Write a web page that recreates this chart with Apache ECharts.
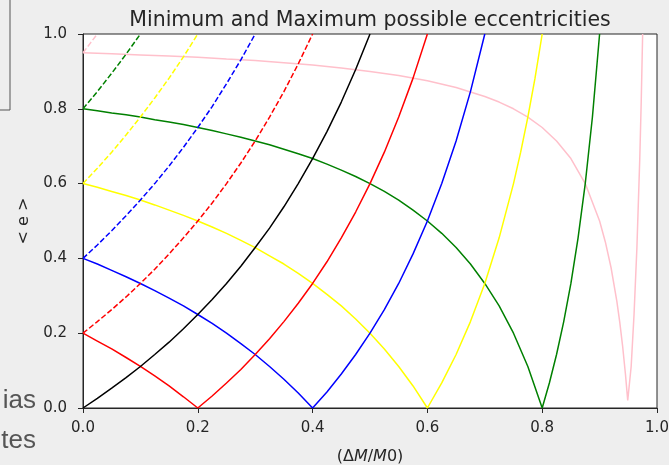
<!DOCTYPE html>
<html>
<head>
<meta charset="utf-8">
<script src="https://cdn.jsdelivr.net/npm/echarts@6/dist/echarts.min.js"></script>
<style>
  html, body { margin: 0; padding: 0; background: #eeeeee; }
  #chart { width: 669px; height: 465px; }
</style>
</head>
<body>
<div id="chart"></div>
<script>
// Eccentricity after an instantaneous mass loss ΔM/M0, for several initial
// eccentricities. Each curve is a list of [ΔM/M0, e] points.
// Solid: minimum eccentricity, dashed: maximum eccentricity.

const tickLabels = ['0.0', '0.2', '0.4', '0.6', '0.8', '1.0'];

// e0 = 0 (minimum and maximum coincide)
const blackCurve = [[0,0],[0.025,0.026],[0.05,0.053],[0.075,0.081],[0.1,0.111],[0.125,0.143],[0.15,0.176],[0.175,0.212],[0.2,0.25],[0.225,0.29],[0.25,0.333],[0.275,0.379],[0.3,0.429],[0.325,0.481],[0.35,0.538],[0.375,0.6],[0.4,0.667],[0.425,0.739],[0.45,0.818],[0.475,0.905],[0.5,1.0]];

// e0 = 0.2
const redMin = [[0,0.2],[0.025,0.179],[0.05,0.158],[0.075,0.135],[0.1,0.111],[0.125,0.086],[0.15,0.059],[0.175,0.03],[0.2,0],[0.225,0.032],[0.25,0.067],[0.275,0.103],[0.3,0.143],[0.325,0.185],[0.35,0.231],[0.375,0.28],[0.4,0.333],[0.425,0.391],[0.45,0.455],[0.475,0.524],[0.5,0.6],[0.525,0.684],[0.55,0.778],[0.575,0.882],[0.6,1.0]];
const redMax = [[0,0.2],[0.025,0.231],[0.05,0.263],[0.075,0.297],[0.1,0.333],[0.125,0.371],[0.15,0.412],[0.175,0.455],[0.2,0.5],[0.225,0.548],[0.25,0.6],[0.275,0.655],[0.3,0.714],[0.325,0.778],[0.35,0.846],[0.375,0.92],[0.4,1.0]];

// e0 = 0.4
const blueMin = [[0,0.4],[0.025,0.385],[0.05,0.368],[0.075,0.351],[0.1,0.333],[0.125,0.314],[0.15,0.294],[0.175,0.273],[0.2,0.25],[0.225,0.226],[0.25,0.2],[0.275,0.172],[0.3,0.143],[0.325,0.111],[0.35,0.077],[0.375,0.04],[0.4,0],[0.425,0.043],[0.45,0.091],[0.475,0.143],[0.5,0.2],[0.525,0.263],[0.55,0.333],[0.575,0.412],[0.6,0.5],[0.625,0.6],[0.65,0.714],[0.675,0.846],[0.7,1.0]];
const blueMax = [[0,0.4],[0.025,0.436],[0.05,0.474],[0.075,0.514],[0.1,0.556],[0.125,0.6],[0.15,0.647],[0.175,0.697],[0.2,0.75],[0.225,0.806],[0.25,0.867],[0.275,0.931],[0.3,1.0]];

// e0 = 0.6
const yellowMin = [[0,0.6],[0.025,0.59],[0.05,0.579],[0.075,0.568],[0.1,0.556],[0.125,0.543],[0.15,0.529],[0.175,0.515],[0.2,0.5],[0.225,0.484],[0.25,0.467],[0.275,0.448],[0.3,0.429],[0.325,0.407],[0.35,0.385],[0.375,0.36],[0.4,0.333],[0.425,0.304],[0.45,0.273],[0.475,0.238],[0.5,0.2],[0.525,0.158],[0.55,0.111],[0.575,0.059],[0.6,0],[0.625,0.067],[0.65,0.143],[0.675,0.231],[0.7,0.333],[0.725,0.455],[0.75,0.6],[0.7625,0.684],[0.775,0.778],[0.7875,0.882],[0.8,1.0]];
const yellowMax = [[0,0.6],[0.025,0.641],[0.05,0.684],[0.075,0.73],[0.1,0.778],[0.125,0.829],[0.15,0.882],[0.175,0.939],[0.2,1.0]];

// e0 = 0.8
const greenMin = [[0,0.8],[0.025,0.795],[0.05,0.789],[0.075,0.784],[0.1,0.778],[0.125,0.771],[0.15,0.765],[0.175,0.758],[0.2,0.75],[0.225,0.742],[0.25,0.733],[0.275,0.724],[0.3,0.714],[0.325,0.704],[0.35,0.692],[0.375,0.68],[0.4,0.667],[0.425,0.652],[0.45,0.636],[0.475,0.619],[0.5,0.6],[0.525,0.579],[0.55,0.556],[0.575,0.529],[0.6,0.5],[0.625,0.467],[0.65,0.429],[0.675,0.385],[0.7,0.333],[0.725,0.273],[0.75,0.2],[0.775,0.111],[0.8,0],[0.8125,0.067],[0.825,0.143],[0.8375,0.231],[0.85,0.333],[0.8625,0.455],[0.875,0.6],[0.8875,0.778],[0.9,1.0]];
const greenMax = [[0,0.8],[0.025,0.846],[0.05,0.895],[0.075,0.946],[0.1,1.0]];

// e0 = 0.95
const pinkMin = [[0,0.95],[0.05,0.947],[0.1,0.944],[0.15,0.941],[0.2,0.938],[0.25,0.933],[0.3,0.929],[0.35,0.923],[0.4,0.917],[0.45,0.909],[0.5,0.9],[0.55,0.889],[0.6,0.875],[0.65,0.857],[0.7,0.833],[0.725,0.818],[0.75,0.8],[0.775,0.778],[0.8,0.75],[0.825,0.714],[0.85,0.667],[0.875,0.6],[0.9,0.5],[0.91,0.444],[0.92,0.375],[0.93,0.286],[0.935,0.231],[0.94,0.167],[0.945,0.091],[0.949,0.02],[0.955,0.111],[0.96,0.25],[0.965,0.429],[0.97,0.667],[0.9725,0.818],[0.975,1.0]];
const pinkMax = [[0,0.95],[0.0125,0.975],[0.025,1.0]];

const curves = [
  { data: pinkMin, color: '#ffc0cb', dashed: false },
  { data: pinkMax, color: '#ffc0cb', dashed: true },
  { data: greenMin, color: '#008000', dashed: false },
  { data: greenMax, color: '#008000', dashed: true },
  { data: yellowMin, color: '#ffff00', dashed: false },
  { data: yellowMax, color: '#ffff00', dashed: true },
  { data: blueMin, color: '#0000ff', dashed: false },
  { data: blueMax, color: '#0000ff', dashed: true },
  { data: redMin, color: '#ff0000', dashed: false },
  { data: redMax, color: '#ff0000', dashed: true },
  { data: blackCurve, color: '#000000', dashed: false }
];

const font = 'DejaVu Sans';
const ink = '#262626';

const axisCommon = {
  type: 'value',
  min: 0,
  max: 1,
  interval: 0.2,
  splitLine: { show: false },
  axisLine: { show: true, onZero: false, lineStyle: { color: ink, width: 1 } },
  axisTick: { show: true, length: 5, lineStyle: { color: ink, width: 1 } },
  axisLabel: {
    color: ink,
    fontFamily: font,
    fontSize: 15,
    formatter: v => tickLabels[Math.round(v / 0.2)]
  }
};

const chart = echarts.init(document.getElementById('chart'), null, { renderer: 'canvas' });

chart.setOption({
  backgroundColor: '#eeeeee',
  animation: false,
  title: {
    text: 'Minimum and Maximum possible eccentricities',
    left: 365,
    textAlign: 'center',
    top: 5,
    textStyle: { fontFamily: font, fontSize: 20.5, fontWeight: 'normal', color: ink }
  },
  grid: {
    left: 83, right: 12, top: 34, bottom: 57,
    outerBoundsMode: 'none',
    containLabel: false,
    show: true,
    backgroundColor: '#ffffff',
    borderColor: ink,
    borderWidth: 1
  },
  xAxis: Object.assign({}, axisCommon, {
    name: '{n|(Δ}{i|M}{n|/}{i|M}{n|0)}',
    nameLocation: 'middle',
    nameGap: 41,
    nameTextStyle: {
      rich: {
        n: { fontFamily: font, fontSize: 16, color: ink },
        i: { fontFamily: font, fontSize: 16, fontStyle: 'italic', color: ink }
      }
    },
    axisLabel: Object.assign({}, axisCommon.axisLabel, { margin: 13 })
  }),
  yAxis: Object.assign({}, axisCommon, {
    name: '< e >',
    nameLocation: 'middle',
    nameRotate: 90,
    nameGap: 49,
    nameTextStyle: { fontFamily: font, fontSize: 16, color: ink },
    axisLabel: Object.assign({}, axisCommon.axisLabel, { margin: 16 })
  }),
  series: curves.map(c => ({
    type: 'line',
    data: c.data,
    showSymbol: false,
    symbol: 'none',
    clip: true,
    lineStyle: { color: c.color, width: 1.5, type: c.dashed ? [5.5, 2.4] : 'solid' },
    emphasis: { disabled: true }
  })),
  graphic: [
    { type: 'polyline', shape: { points: [[10, 0], [10, 110], [0, 110]] }, style: { stroke: '#555', lineWidth: 1, fill: null } },
    { type: 'text', right: 669 - 36, top: 388, style: { text: 'ias', fontFamily: 'Liberation Sans', fontSize: 26, fill: '#555' } },
    { type: 'text', right: 669 - 36, top: 428, style: { text: 'tes', fontFamily: 'Liberation Sans', fontSize: 26, fill: '#555' } }
  ]
});
</script>
</body>
</html>
